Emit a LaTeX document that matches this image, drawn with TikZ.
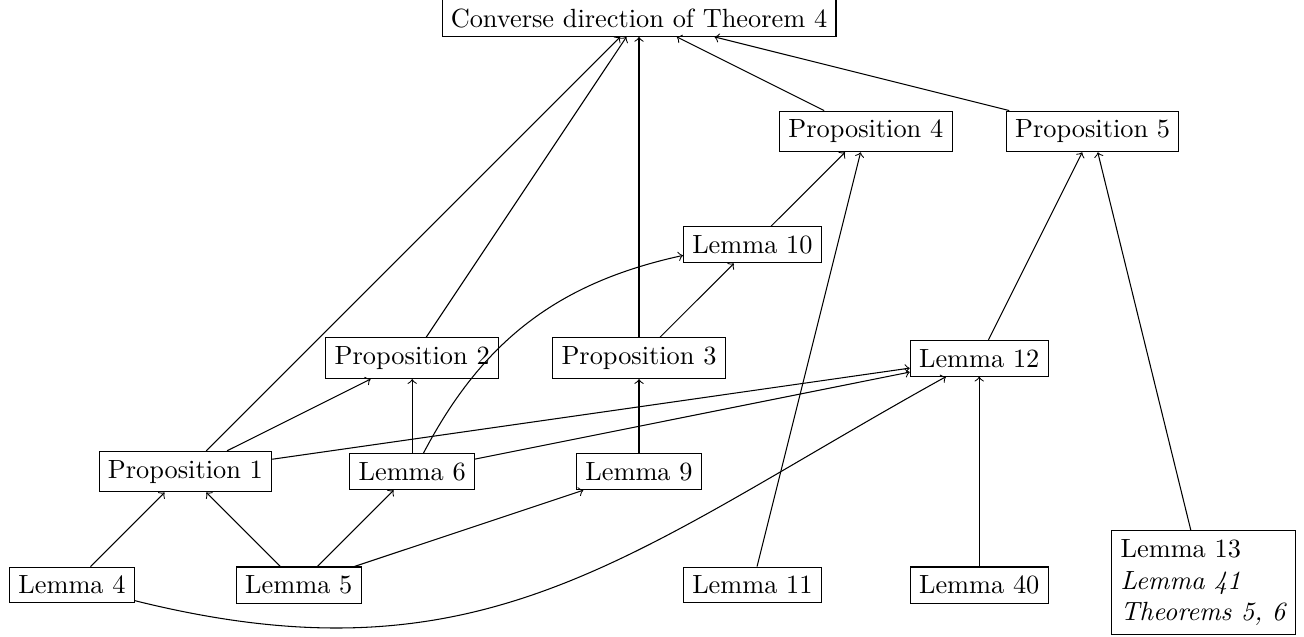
\documentclass[tikz,border=0pt]{standalone}
\usetikzlibrary{arrows}
\tikzstyle{res}=[draw, inner sep=3.33pt]
\tikzstyle{dep}=[->]

\begin{document}
\begin{tikzpicture}[x=1.513cm, y=1.513cm]
    \useasboundingbox (-0.635,-0.450) rectangle (10.864,5.159);
    % main result
    \node (thm) [res] at (5,5) {Converse direction of Theorem 4};
    \node (p4) [res] at (7,4) {Proposition 4};
    \node (p5) [res] at (9,4) {Proposition 5};
    \node (l10) [res] at (6,3) {Lemma 10};
    \node (p2) [res] at (3,2) {Proposition 2};
    \node (p3) [res] at (5,2) {Proposition 3};
    \node (l12) [res] at (8,2) {Lemma 12};
    \node (p1) [res] at (1,1) {Proposition 1};
    \node (l6) [res] at (3,1) {Lemma 6};
    \node (l9) [res] at (5,1) {Lemma 9};
    \node (l4) [res] at (0,0) {Lemma 4};
    \node (l5) [res] at (2,0) {Lemma 5};
    \node (l11) [res] at (6,0) {Lemma 11};
    \node (l40) [res] at (8,0) {Lemma 40};
    \node (l13) [res, align=left] at (9.98,0.02) {Lemma 13\\ \textit{Lemma 41}\\ \textit{Theorems 5, 6}};
    %
    \path[dep] (p1) edge (thm);
    \path[dep] (p2) edge (thm);
    \path[dep] (p3) edge (thm);
    \path[dep] (p4) edge (thm);
    \path[dep] (p5) edge (thm);
    %
    \path[dep] (l10) edge (p4);
    \path[dep] (l11) edge (p4);
    \path[dep] (l12) edge (p5);
    \path[dep] (l13) edge (p5);
    \path[dep] (p3) edge (l10);
    \path[dep] (l6) edge [bend left=25] (l10);
    %
    \path[dep] (p1) edge (p2);
    \path[dep] (l6) edge (p2);
    \path[dep] (l9) edge (p3);
    \path[dep] (p1) edge (l12);
    \path[dep] (l6) edge (l12);
    \path[dep] (l4) edge [out=-14, in=-151, looseness=1.1] (l12);
    \path[dep] (l40) edge (l12);
    %
    \path[dep] (l4) edge (p1);
    \path[dep] (l5) edge (p1);
    \path[dep] (l5) edge (l6);
    \path[dep] (l5) edge (l9);
  \end{tikzpicture}
\end{document}
